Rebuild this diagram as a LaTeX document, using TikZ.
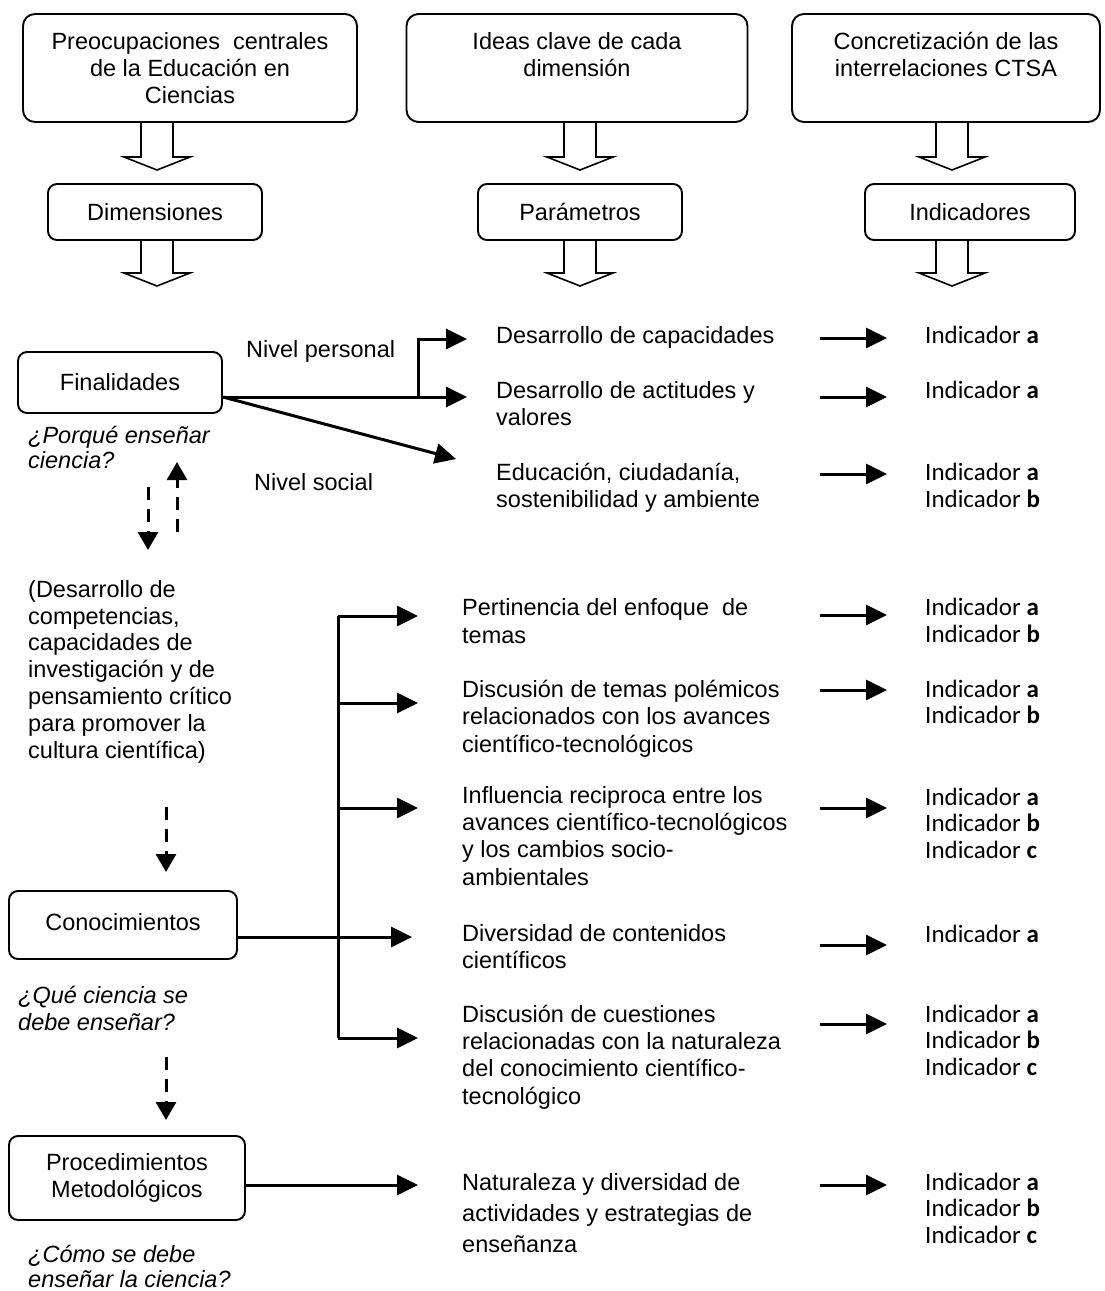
\documentclass[tikz,border=0pt]{standalone}
\usepackage{fontspec}
\setmainfont{Liberation Sans}
\newfontfamily\indfont{Carlito}
\usetikzlibrary{arrows.meta}
\newcommand\fst{\rule{0pt}{18pt}}
\newcommand\hollowarrow[3]{%
  \draw[hol] (#1-16,#2) -- (#1-16,#3-13) -- (#1-33,#3-13) -- (#1,#3) -- (#1+33,#3-13) -- (#1+16,#3-13) -- (#1+16,#2);}
\tikzset{
  box/.style={draw, line width=1.9pt, rounded corners=12pt, align=center, inner sep=0pt,
    font=\fontsize{23.5}{27}\selectfont},
  sbox/.style={box, rounded corners=9pt},
  lt/.style={anchor=north west, inner sep=0pt, align=left, font=\fontsize{23.5}{#1}\selectfont},
  lt/.default=27,
  it/.style={lt=#1, font=\fontsize{23.5}{#1}\selectfont\itshape},
  ind/.style={anchor=north west, inner sep=0pt, align=left, font=\indfont\fontsize{25}{#1}\selectfont},
  ind/.default=27,
  hol/.style={line width=1.6pt, line join=miter},
  arr/.style={line width=3pt, -{Triangle[length=21pt,width=20pt]}},
  ln/.style={line width=3pt},
  darr/.style={line width=3pt, dash pattern=on 13pt off 9pt, -{Triangle[length=18pt,width=20pt]}},
}
\begin{document}
\begin{tikzpicture}[x=1pt,y=-1pt]
\useasboundingbox (0,0) rectangle (1105,1291);
\fill[white] (0,0) rectangle (1105,1291);

% top boxes
\node[box, minimum width=334pt, minimum height=108pt] (b1) at (190,68) {Preocupaciones~~centrales\\de la Educación en\\Ciencias};
\node[box, minimum width=341pt, minimum height=108pt] (b2) at (577,68) {Ideas clave de cada\\dimensión\\~};
\node[box, minimum width=308pt, minimum height=108pt] (b3) at (946,68) {Concretización de las\\interrelaciones CTSA\\~};

% middle boxes
\node[sbox, minimum width=214pt, minimum height=56pt] (dim) at (155,212) {Dimensiones};
\node[sbox, minimum width=204pt, minimum height=56pt] (par) at (580,212) {Parámetros};
\node[sbox, minimum width=210pt, minimum height=56pt] (inds) at (970,212) {Indicadores};

% hollow arrows
\hollowarrow{157}{122}{170}
\hollowarrow{580}{122}{170}
\hollowarrow{952}{122}{170}
\hollowarrow{157}{240}{286}
\hollowarrow{580}{240}{286}
\hollowarrow{952}{240}{286}

% dimension boxes
\node[sbox, minimum width=204pt, minimum height=61pt] (fin) at (120,382.5) {Finalidades};
\node[sbox, minimum width=228pt, minimum height=68pt] (con) at (123,925) {\raisebox{6pt}{Conocimientos}};
\node[sbox, minimum width=236pt, minimum height=84pt] (proc) at (127,1178) {Procedimientos\\Metodológicos};

% left texts
\node[lt] (np) at (246,339) {\fst Nivel personal};
\node[lt] (ns) at (254,472) {\fst Nivel social};
\node[it=25] (q1) at (28,425) {\fst ¿Porqué enseñar\\ciencia?};
\node[lt=26.8] (comp) at (28,579) {\fst(Desarrollo de\\competencias,\\capacidades de\\investigación y de\\pensamiento crítico\\para promover la\\cultura científica)};
\node[it=27] (q2) at (18,985) {\fst ¿Qué ciencia se\\debe enseñar?};
\node[it=25] (q3) at (28,1244) {\fst ¿Cómo se debe\\enseñar la ciencia?};

% parameter texts
\node[lt] (p1) at (496,325) {\fst Desarrollo de capacidades};
\node[lt] (p2) at (496,380) {\fst Desarrollo de actitudes y\\valores};
\node[lt] (p3) at (496,462) {\fst Educación, ciudadanía,\\sostenibilidad y ambiente};
\node[lt=28] (p4) at (462,597) {\fst Pertinencia del enfoque~~de\\temas};
\node[lt=27.5] (p5) at (462,679) {\fst Discusión de temas polémicos\\relacionados con los avances\\científico-tecnológicos};
\node[lt=27.3] (p6) at (462,785) {\fst Influencia reciproca entre los\\avances científico-tecnológicos\\y los cambios socio-\\ambientales};
\node[lt] (p7) at (462,923) {\fst Diversidad de contenidos\\científicos};
\node[lt=27.3] (p8) at (462,1004) {\fst Discusión de cuestiones\\relacionadas con la naturaleza\\del conocimiento científico-\\tecnológico};
\node[lt=31] (p9) at (462,1172) {\fst Naturaleza y diversidad de\\actividades y estrategias de\\enseñanza};

% indicator texts
\node[ind] (i1) at (925,325) {\fst Indicador \textbf{a}};
\node[ind] (i2) at (925,380) {\fst Indicador \textbf{a}};
\node[ind] (i3) at (925,462) {\fst Indicador \textbf{a}\\Indicador \textbf{b}};
\node[ind] (i4) at (925,597) {\fst Indicador \textbf{a}\\Indicador \textbf{b}};
\node[ind=26] (i5) at (925,679) {\fst Indicador \textbf{a}\\Indicador \textbf{b}};
\node[ind=26.5] (i6) at (925,787) {\fst Indicador \textbf{a}\\Indicador \textbf{b}\\Indicador \textbf{c}};
\node[ind] (i7) at (925,924) {\fst Indicador \textbf{a}};
\node[ind=26.5] (i8) at (925,1004) {\fst Indicador \textbf{a}\\Indicador \textbf{b}\\Indicador \textbf{c}};
\node[ind=26.5] (i9) at (925,1172) {\fst Indicador \textbf{a}\\Indicador \textbf{b}\\Indicador \textbf{c}};

% arrows from Finalidades
\coordinate (a1) at (467,339);
\coordinate (a2) at (467,397);
\coordinate (a3) at (456,459);
\coordinate (br) at (418,397);
\draw[arr] (fin.east |- a2) -- (a2);
\draw[arr] (br) |- (a1);
\draw[arr] (fin.east |- a2) -- (a3);

% branching arrows
\coordinate (v1) at (338,616);
\coordinate (v2) at (338,703);
\coordinate (v3) at (338,808);
\coordinate (v5) at (338,1038);
\coordinate (t1) at (418,616);
\coordinate (t2) at (418,703);
\coordinate (t3) at (418,808);
\coordinate (t4) at (412,937);
\coordinate (t5) at (418,1038);
\coordinate (t6) at (418,1185);
\draw[ln] (v1) -- (v5);
\draw[arr] (v1) -- (t1);
\draw[arr] (v2) -- (t2);
\draw[arr] (v3) -- (t3);
\draw[arr] (v5) -- (t5);
\draw[arr] (con.east |- t4) -- (t4);
\draw[arr] (proc.east |- t6) -- (t6);

% arrows to indicators
\coordinate (r1) at (820,338);
\coordinate (r2) at (820,397);
\coordinate (r3) at (820,474);
\coordinate (r4) at (820,615);
\coordinate (r5) at (820,690);
\coordinate (r6) at (820,808);
\coordinate (r7) at (820,945);
\coordinate (r8) at (820,1024);
\coordinate (r9) at (820,1185);
\foreach \k in {1,...,9}{
  \draw[arr, shorten >=38pt] (r\k) -- (r\k -| i\k.west);
}

% dashed arrows
\coordinate (d1a) at (148,487);
\coordinate (d1b) at (148,550);
\coordinate (d2a) at (177,532);
\coordinate (d2b) at (177,462);
\coordinate (d3a) at (166,807);
\coordinate (d3b) at (166,872);
\coordinate (d4a) at (166,1057);
\coordinate (d4b) at (166,1120);
\draw[darr] (d1a) -- (d1b);
\draw[darr] (d2a) -- (d2b);
\draw[darr] (d3a) -- (d3b);
\draw[darr] (d4a) -- (d4b);
\end{tikzpicture}
\end{document}
